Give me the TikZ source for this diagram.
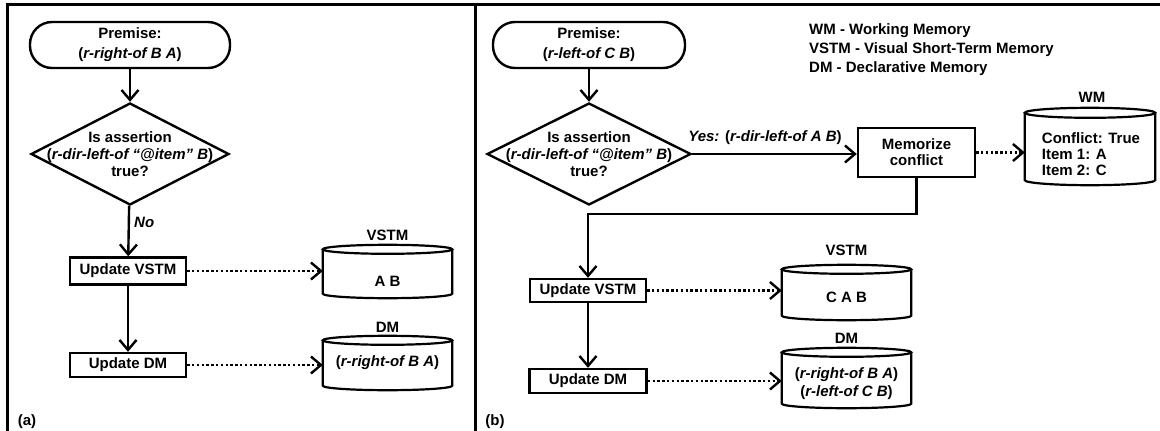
\documentclass[tikz,border=0pt]{standalone}
\usepackage{fontspec}
\setmainfont{Liberation Sans}
\usetikzlibrary{shapes.geometric,arrows.meta,calc}
\tikzset{
  txtbase/.style={font=\fontsize{15}{#1}\selectfont\bfseries, inner sep=0pt, align=center},
  txtbase/.default=18,
  terminal/.style={txtbase=20, draw, line width=2.4pt, rounded corners=22pt, minimum height=46pt},
  decision/.style={draw, diamond, line width=2.4pt, inner sep=0pt},
  process/.style={txtbase, draw, line width=2.4pt},
  storebox/.style={inner sep=0pt, minimum width=129pt},
  flow/.style={line width=2.4pt, -{Straight Barb[length=10pt,width=17pt]}},
  dotarrow/.style={flow, dash pattern=on 2.4pt off 2.4pt},
  frameline/.style={line width=3pt},
  cylline/.style={line width=2.2pt},
}
\newcommand\drawcyl[2]{%
  \draw[cylline] let \p1=(#1.north west), \p2=(#1.south east), \n1={(\x2-\x1)/2} in
    ({(\x1+\x2)/2},{\y1-#2}) ellipse[x radius={\n1*1pt}, y radius=#2]
    (\x1,{\y1-#2}) -- (\x1,{\y2+#2}) arc[start angle=180,end angle=360,x radius={\n1*1pt},y radius=#2] -- (\x2,{\y1-#2});}
\begin{document}
\begin{tikzpicture}[x=1pt,y=-1pt]
\useasboundingbox (0,0) rectangle (1160,431);
% frame
\draw[frameline] (7,431) -- (7,4) -- (1160,4);
\draw[frameline] (475,4) -- (475,431);

% ---------- panel (a)
\node[terminal, minimum width=200pt] (p1) at (130,45) {Premise:\\(\textit{r-right-of B A})};
\node[decision, minimum width=198pt, minimum height=102pt] (d1) at (130,154) {};
\node[txtbase=17] (d1t) at (d1.center) {Is assertion\\(\textit{r-dir-left-of “@item” B})\\true?};
\node[process, minimum width=116pt, minimum height=27pt] (u1) at (128,271) {Update VSTM};
\node[process, minimum width=116pt, minimum height=24pt] (m1) at (128,365) {Update DM};
\node[txtbase, anchor=west] (no1) at (134,222) {\textit{No}};

\node[storebox, minimum height=53pt] (vs1) at (387.5,271.5) {};
\node[storebox, minimum height=54pt] (dm1) at (387.5,363) {};
\drawcyl{vs1}{4.5pt}
\drawcyl{dm1}{4.5pt}
\node[txtbase] (vs1l) at (387.5,235) {VSTM};
\node[txtbase] (vs1t) at (387.5,281) {A B};
\node[txtbase] (dm1l) at (387.5,327) {DM};
\node[txtbase] (dm1t) at (387.5,363) {(\textit{r-right-of B A})};

\draw[flow] (p1) -- (d1);
\draw[flow] (d1) -- (u1);
\draw[flow] (u1) -- (m1);
\draw[dotarrow] (u1.east) -- (u1.east -| vs1.west);
\draw[dotarrow] (m1.east) -- (m1.east -| dm1.west);
\node[txtbase] (la) at (27,422) {(a)};

% ---------- panel (b)
\node[terminal, minimum width=192pt] (p2) at (589,45) {Premise:\\(\textit{r-left-of C B})};
\node[decision, minimum width=204pt, minimum height=102pt] (d2) at (589,154) {};
\node[txtbase=17] (d2t) at (d2.center) {Is assertion\\(\textit{r-dir-left-of “@item” B})\\true?};
\node[process, minimum width=116pt, minimum height=23pt] (u2) at (588,290.5) {Update VSTM};
\node[process, minimum width=117pt, minimum height=24pt] (m2) at (588,381) {Update DM};
\node[process, txtbase=16, minimum width=117pt, minimum height=49pt] (mc) at (916.5,152.5) {Memorize\\conflict};
\node[txtbase] (yes) at (765,138) {\textit{Yes:} (\textit{r-dir-left-of A B})};

\node[storebox, minimum width=130pt, minimum height=77pt] (wm) at (1090,146.5) {};
\node[storebox, minimum height=55pt] (vs2) at (846.5,292.5) {};
\node[storebox, minimum height=60pt] (dm2) at (846.5,378) {};
\drawcyl{wm}{5pt}
\drawcyl{vs2}{4.5pt}
\drawcyl{dm2}{4.5pt}
\node[txtbase] (wml) at (1092,97) {WM};
\node[txtbase=16, align=left] (wmt) at (1091,154) {Conflict: True\\Item 1: A\\Item 2: C};
\node[txtbase] (vs2l) at (846.5,250) {VSTM};
\node[txtbase] (vs2t) at (846.5,297) {C A B};
\node[txtbase] (dm2l) at (846.5,338) {DM};
\node[txtbase=18] (dm2t) at (846.5,384) {(\textit{r-right-of B A})\\(\textit{r-left-of C B})};

\node[txtbase=19, align=left, anchor=north west] (legend) at (809,23) {WM - Working Memory\\VSTM - Visual Short-Term Memory\\DM - Declarative Memory};

\draw[flow] (p2) -- (d2);
\draw[flow] (d2.east) -- (d2.east -| mc.west);
\draw[flow] (mc.south) -- ++(0,36) -| (u2.north);
\draw[flow] (u2) -- (m2);
\draw[dotarrow] (mc.east) -- (mc.east -| wm.west);
\draw[dotarrow] (u2.east) -- (u2.east -| vs2.west);
\draw[dotarrow] (m2.east) -- (m2.east -| dm2.west);
\node[txtbase] (lb) at (495,422) {(b)};
\end{tikzpicture}
\end{document}
